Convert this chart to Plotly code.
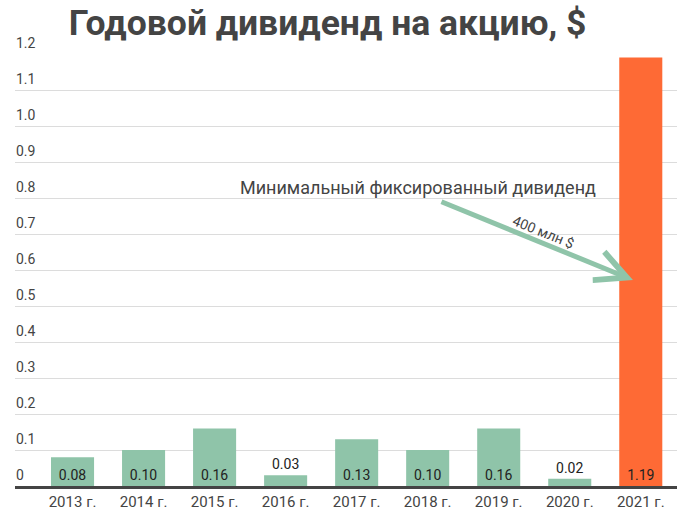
import plotly.graph_objects as go

years = ["2013 г.", "2014 г.", "2015 г.", "2016 г.", "2017 г.", "2018 г.", "2019 г.", "2020 г.", "2021 г."]
dividends = [0.08, 0.10, 0.16, 0.03, 0.13, 0.10, 0.16, 0.02, 1.19]
labels = ["0.08", "0.10", "0.16", "0.03", "0.13", "0.10", "0.16", "0.02", "1.19"]
y_ticks = [0, 0.1, 0.2, 0.3, 0.4, 0.5, 0.6, 0.7, 0.8, 0.9, 1.0, 1.1, 1.2]
y_tick_text = ["0", "0.1", "0.2", "0.3", "0.4", "0.5", "0.6", "0.7", "0.8", "0.9", "1.0", "1.1", "1.2"]

GREEN = "#8fc4a9"
ORANGE = "#fe6a35"
colors = [GREEN] * 8 + [ORANGE]
positions = ["inside" if v >= 0.05 else "outside" for v in dividends]

fig = go.Figure(go.Bar(
    x=list(range(len(years))),
    y=dividends,
    marker=dict(color=colors, line=dict(width=0)),
    width=0.606,
    text=labels,
    textposition=positions,
    insidetextanchor="start",
    textangle=0,
    constraintext="none",
    textfont=dict(family="Roboto", size=14, color="#222222"),
    cliponaxis=False,
    hoverinfo="skip",
))

fig.update_layout(
    width=694, height=526,
    margin=dict(l=15, r=17, t=54, b=40),
    paper_bgcolor="white", plot_bgcolor="white",
    showlegend=False,
    bargap=0.4,
    title=dict(text="<b>Годовой дивиденд на акцию, $</b>",
               font=dict(family="Roboto", size=35.5, color="#444444"),
               x=0.472, xanchor="center", y=0.958, yanchor="middle"),
    xaxis=dict(range=[-0.81, 8.51], tickmode="array",
               tickvals=list(range(len(years))), ticktext=years,
               tickfont=dict(family="Roboto", size=15, color="#444444"),
               showgrid=False, zeroline=False, ticks="",
               showline=True, linecolor="#444444", linewidth=2.5),
    yaxis=dict(range=[0, 1.2], tickmode="array", tickvals=y_ticks,
               showticklabels=False, ticks="",
               showgrid=True, gridcolor="#dcdcdc", gridwidth=1, zeroline=False),
    font=dict(family="Roboto"),
)

for v, t in zip(y_ticks, y_tick_text):
    fig.add_annotation(
        x=0, y=v, xref="paper", yref="y", xanchor="left", yanchor="bottom",
        text=t, showarrow=False, yshift=1, xshift=-1,
        font=dict(family="Roboto", size=14, color="#444444"),
    )

fig.add_annotation(
    x=4.866, y=0.83, xref="x", yref="y",
    text="Минимальный фиксированный дивиденд", showarrow=False,
    font=dict(family="Roboto", size=18, color="#444444"),
)
fig.add_annotation(
    x=7.89, y=0.572, xref="x", yref="y",
    ax=-193, ay=-79, axref="pixel", ayref="pixel",
    text="", showarrow=True, arrowhead=5, arrowsize=1.2,
    arrowwidth=5, arrowcolor=GREEN, standoff=0, startstandoff=0,
)
fig.add_annotation(
    x=6.627, y=0.706, xref="x", yref="y",
    text="400 млн $", showarrow=False, textangle=22,
    font=dict(family="Roboto", size=14, color="#444444"),
)

fig.write_html("out.html")
